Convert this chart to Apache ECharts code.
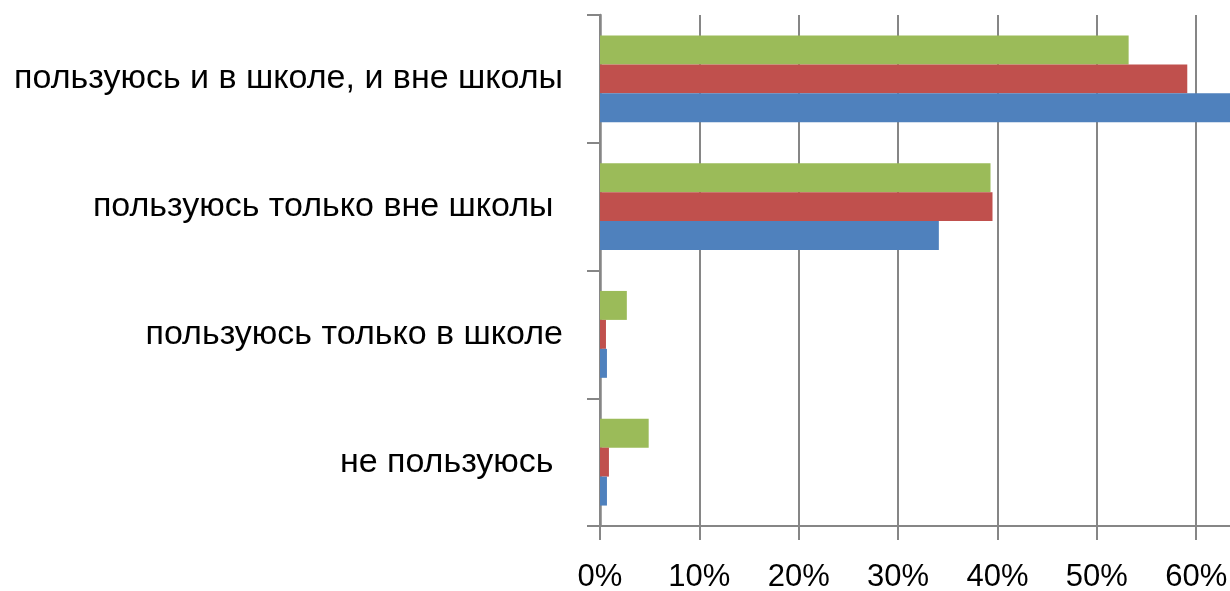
<!DOCTYPE html>
<html>
<head>
<meta charset="utf-8">
<script src="https://cdn.jsdelivr.net/npm/echarts@6/dist/echarts.min.js"></script>
<style>
html,body{margin:0;padding:0;background:#fff;}
#chart{width:1230px;height:591px;}
</style>
</head>
<body>
<div id="chart"></div>
<script>
const categories = ['не пользуюсь ', 'пользуюсь только в школе', 'пользуюсь только вне школы ', 'пользуюсь и в школе, и вне школы'];
const blueValues = [0.7, 0.7, 34.1, 64.5];
const redValues = [0.9, 0.6, 39.5, 59.1];
const greenValues = [4.9, 2.7, 39.3, 53.2];
const xTicks = [0, 10, 20, 30, 40, 50, 60];

const chart = echarts.init(document.getElementById('chart'));
const gray = '#868686';
chart.setOption({
  animation: false,
  grid: {left: 600, right: 0, top: 15, bottom: 65, containLabel: false, outerBoundsMode: 'none'},
  xAxis: {
    type: 'value', min: 0, max: 63.4, interval: 10,
    axisLine: {show: true, lineStyle: {color: gray, width: 2}},
    axisTick: {show: true, length: 14, lineStyle: {color: gray, width: 2}},
    splitLine: {show: true, showMaxLine: false, lineStyle: {color: gray, width: 2}},
    axisLabel: {
      margin: 36, color: '#000', fontFamily: 'Liberation Sans', fontSize: 31,
      showMaxLabel: false,
      formatter: v => xTicks.includes(v) ? v + '%' : ''
    }
  },
  yAxis: {
    type: 'category', data: categories,
    axisLine: {show: true, lineStyle: {color: gray, width: 2.5}},
    axisTick: {show: true, length: 13, lineStyle: {color: gray, width: 2}},
    axisLabel: {margin: 37, color: '#000', fontFamily: 'Liberation Sans', fontSize: 34, padding: [6, 0, 0, 0]}
  },
  series: [
    {name: 'green', type: 'bar', data: greenValues, itemStyle: {color: '#9BBB59'}, barGap: '0%', barCategoryGap: '32%'},
    {name: 'red', type: 'bar', data: redValues, itemStyle: {color: '#C0504D'}, barGap: '0%', barCategoryGap: '32%'},
    {name: 'blue', type: 'bar', data: blueValues, itemStyle: {color: '#4F81BD'}, barGap: '0%', barCategoryGap: '32%'}
  ]
});
</script>
</body>
</html>
